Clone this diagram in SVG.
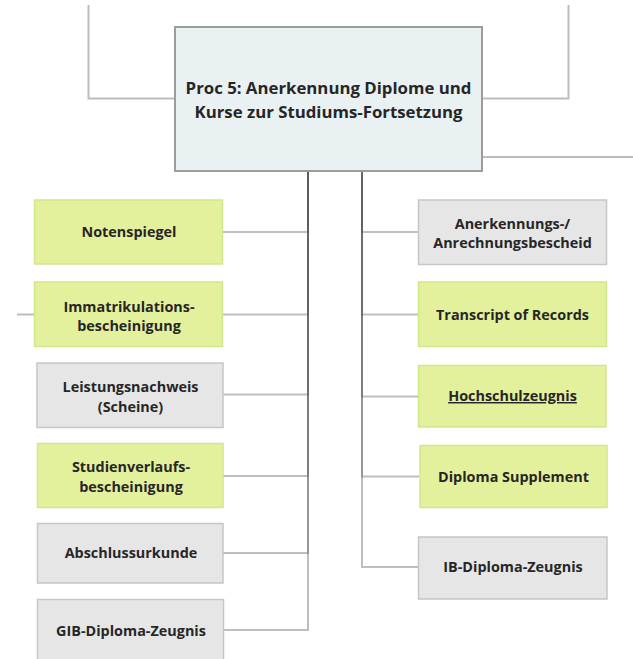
<svg xmlns="http://www.w3.org/2000/svg" width="633" height="659" viewBox="0 0 633 659">
<style>
  .conn { fill: none; stroke: #555; stroke-opacity: 0.38; stroke-width: 2; }
  .ext { fill: none; stroke: #bdbdbd; stroke-width: 2; }
  .main { fill: #e9f1f3; stroke: #9c9c9c; stroke-width: 2; }
  .green { fill: #e3f09c; stroke: #cfe88c; stroke-width: 1.5; }
  .grey { fill: #e6e6e6; stroke: #c6c6c6; stroke-width: 1.5; }
  text { font-family: "Open Sans", "DejaVu Sans", sans-serif; font-weight: 700; fill: #262626; text-anchor: middle; }
  .t { font-size: 14.4px; }
  .mt { font-size: 16.8px; }
</style>
<rect width="633" height="659" fill="#ffffff"/>
<g id="connectors">
  <path class="ext" d="M88.5,5 V98.5 H175"/>
  <path class="ext" d="M568.5,5 V98.5 H482"/>
  <path class="ext" d="M482,157 H633"/>
  <path class="ext" d="M17,314.5 H35"/>
  <path class="conn" d="M308,171 V232 H223"/>
  <path class="conn" d="M308,171 V314.5 H223"/>
  <path class="conn" d="M308,171 V394.5 H223"/>
  <path class="conn" d="M308,171 V476 H223"/>
  <path class="conn" d="M308,171 V553 H223"/>
  <path class="conn" d="M308,171 V630 H223"/>
  <path class="conn" d="M362,171 V232 H418"/>
  <path class="conn" d="M362,171 V314.5 H418"/>
  <path class="conn" d="M362,171 V396.5 H418"/>
  <path class="conn" d="M362,171 V476.5 H419"/>
  <path class="conn" d="M362,171 V567 H418"/>
</g>
<g id="main">
  <rect class="main" x="175" y="27" width="307" height="144"/>
  <text class="mt" x="328.5" y="94">Proc 5: Anerkennung Diplome und</text>
  <text class="mt" x="328.5" y="118">Kurse zur Studiums-Fortsetzung</text>
</g>
<g id="n-notenspiegel">
  <rect class="green" x="34.5" y="200" width="188" height="64"/>
  <text class="t" x="129" y="237">Notenspiegel</text>
</g>
<g id="n-immatrikulation">
  <rect class="green" x="34.5" y="282" width="188" height="64.5"/>
  <text class="t" x="129" y="311.5">Immatrikulations-</text>
  <text class="t" x="129" y="331">bescheinigung</text>
</g>
<g id="n-leistungsnachweis">
  <rect class="grey" x="37" y="363" width="186" height="64.5"/>
  <text class="t" x="130.5" y="392">Leistungsnachweis</text>
  <text class="t" x="130.5" y="412">(Scheine)</text>
</g>
<g id="n-studienverlauf">
  <rect class="green" x="37.5" y="443.5" width="185.5" height="64"/>
  <text class="t" x="131" y="472">Studienverlaufs-</text>
  <text class="t" x="131" y="491.5">bescheinigung</text>
</g>
<g id="n-abschlussurkunde">
  <rect class="grey" x="37.5" y="523.5" width="185.5" height="59.5"/>
  <text class="t" x="131" y="558">Abschlussurkunde</text>
</g>
<g id="n-gib">
  <rect class="grey" x="37.5" y="599.5" width="186" height="62"/>
  <text class="t" x="131" y="635.5">GIB-Diploma-Zeugnis</text>
</g>
<g id="n-anerkennungsbescheid">
  <rect class="grey" x="418.5" y="200" width="188" height="64.5"/>
  <text class="t" x="512.5" y="229">Anerkennungs-/</text>
  <text class="t" x="512.5" y="248">Anrechnungsbescheid</text>
</g>
<g id="n-transcript">
  <rect class="green" x="418.5" y="282" width="188" height="64.5"/>
  <text class="t" x="512.5" y="319.5">Transcript of Records</text>
</g>
<g id="n-hochschulzeugnis">
  <rect class="green" x="418.5" y="365.5" width="187.5" height="61.5"/>
  <text class="t" x="512.5" y="401" text-decoration="underline">Hochschulzeugnis</text>
</g>
<g id="n-diploma-supplement">
  <rect class="green" x="420" y="445.5" width="187" height="62"/>
  <text class="t" x="513.5" y="482">Diploma Supplement</text>
</g>
<g id="n-ib">
  <rect class="grey" x="418.5" y="537" width="188.5" height="62"/>
  <text class="t" x="513" y="572">IB-Diploma-Zeugnis</text>
</g>
</svg>
